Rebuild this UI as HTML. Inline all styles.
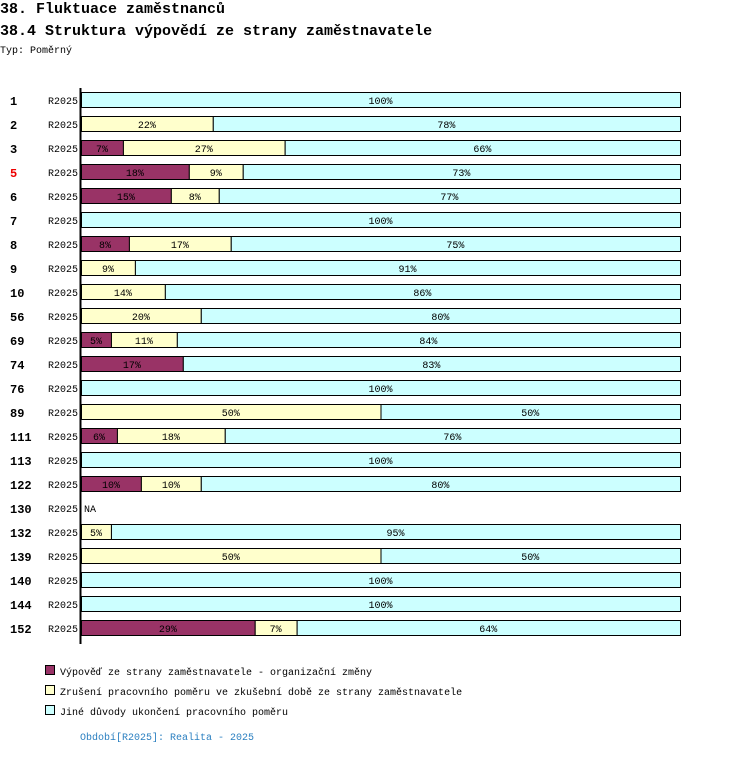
<!DOCTYPE html>
<html><head><meta charset="utf-8"><style>
body{margin:0;background:#fff;width:750px;height:754px;overflow:hidden;font-family:"Liberation Mono",monospace;}
svg text{font-family:"Liberation Mono","DejaVu Sans Mono",monospace;}
</style></head><body>
<svg id="chart" width="750" height="754">
<text x="0" y="13" font-size="15" font-weight="bold">38. Fluktuace zaměstnanců</text>
<text x="0" y="35" font-size="15" font-weight="bold">38.4 Struktura výpovědí ze strany zaměstnavatele</text>
<text x="0" y="53" font-size="10">Typ: Poměrný</text>
<g id="bars"></g>
<rect x="79.5" y="88" width="2" height="556" fill="#000"/>
<rect x="45.5" y="665.5" width="9" height="9" fill="#993366" stroke="#000"/>
<text x="60" y="675" font-size="10">Výpověď ze strany zaměstnavatele - organizační změny</text>
<rect x="45.5" y="685.5" width="9" height="9" fill="#FFFFCC" stroke="#000"/>
<text x="60" y="695" font-size="10">Zrušení pracovního poměru ve zkušební době ze strany zaměstnavatele</text>
<rect x="45.5" y="705.5" width="9" height="9" fill="#CCFFFF" stroke="#000"/>
<text x="60" y="715" font-size="10">Jiné důvody ukončení pracovního poměru</text>
<text x="80" y="740" font-size="10" fill="#2a7fc0">Období[R2025]: Realita - 2025</text>
</svg>
<script>
const categories=["1","2","3","5","6","7","8","9","10","56","69","74","76","89","111","113","122","130","132","139","140","144","152"];
const seriesOrg=[0,0,7,18,15,0,8,0,0,0,5,17,0,0,6,0,10,null,0,0,0,0,29];
const seriesTrial=[0,22,27,9,8,0,17,9,14,20,11,0,0,50,18,0,10,null,5,50,0,0,7];
const seriesOther=[100,78,66,73,77,100,75,91,86,80,84,83,100,50,76,100,80,null,95,50,100,100,64];
const colors=["#993366","#FFFFCC","#CCFFFF"];
const x0=81,W=599;
function xs(p){return x0+p/100*W;}
function yc(i){return 100+i*24;}
const g=document.getElementById('bars');
const NS="http://www.w3.org/2000/svg";
function mk(t,a){const e=document.createElementNS(NS,t);for(const k in a)e.setAttribute(k,a[k]);return e;}
categories.forEach((c,i)=>{
  const y=yc(i);
  const id=mk('text',{x:10,y:y+5,'font-size':12,'font-weight':'bold',fill:c==="5"?"#e00":"#000"});
  id.textContent=c;
  
  
  g.appendChild(id);
  const p=mk('text',{x:78,y:y+4,'font-size':10,'text-anchor':'end'});
  p.textContent="R2025";
  
  
  g.appendChild(p);
  const vals=[seriesOrg[i],seriesTrial[i],seriesOther[i]];
  if(vals[0]===null){
    const na=mk('text',{x:84,y:y+4,'font-size':10});na.textContent="NA";
    
    
    g.appendChild(na);return;
  }
  let acc=0;
  vals.forEach((v,s)=>{
    if(!v)return;
    const a=xs(acc),b=xs(acc+v);acc+=v;
    const r=mk('rect',{x:a+0.5,y:y-7.5,width:b-a,height:15,fill:colors[s],stroke:'#000'});
    
    
    g.appendChild(r);
    const t=mk('text',{x:(a+b)/2,y:y+4,'font-size':10,'text-anchor':'middle'});
    t.textContent=v+"%";
    
    
    g.appendChild(t);
  });
});
</script>
</body></html>
